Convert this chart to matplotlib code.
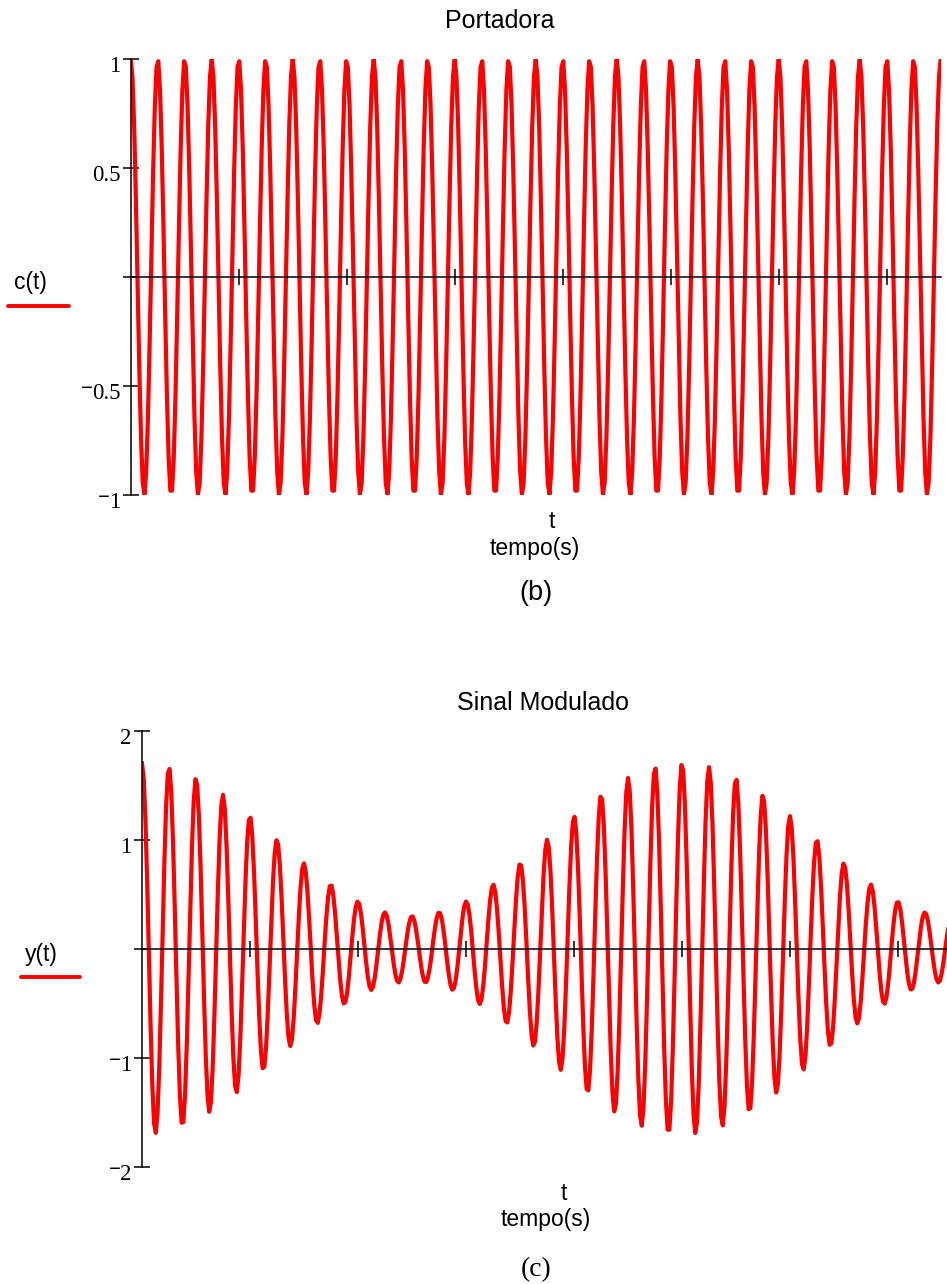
import numpy as np
import matplotlib
matplotlib.use("Agg")
import matplotlib.pyplot as plt
from matplotlib.transforms import ScaledTranslation

W, H = 947, 1284

# signal parameters (time in tick units)
t_end = 7.5            # x range: 7.5 tick intervals
carrier_freq = 4.0     # 4 carrier cycles per tick interval
mod_freq = 0.2         # envelope period = 5 tick intervals
mod_index = 0.7        # envelope goes 1.7 -> 0.3
n_samples = 471        # coarse sampling, gives the jagged look

c_yticks = [-1, -0.5, 0, 0.5, 1]
c_ylabels = ["1", "0.5", "", "0.5", "1"]
y_yticks = [-2, -1, 0, 1, 2]
y_ylabels = ["2", "1", "", "1", "2"]
x_ticks = [1, 2, 3, 4, 5, 6, 7]

t = np.linspace(0, t_end, n_samples)
c = np.cos(2 * np.pi * carrier_freq * t)
y = (1 + mod_index * np.cos(2 * np.pi * mod_freq * t)) * c

red = "#ff0000"
sans = ["Liberation Sans", "DejaVu Sans"]
serif = ["Liberation Serif", "DejaVu Serif"]


def px(x, yy):
    return x / W, 1 - yy / H


fig = plt.figure(figsize=(W / 100, H / 100), dpi=100)

# axes boxes in pixels: (left, top, right, bottom)
boxes = [(130.7, 59.3, 940.7, 495.0), (142.0, 730.7, 952.0, 1167.0)]
series = [(c, (-1, 1), c_yticks, c_ylabels), (y, (-2, 2), y_yticks, y_ylabels)]

for (l, tp, r, b), (vals, ylim, yt, yl) in zip(boxes, series):
    ax = fig.add_axes([l / W, 1 - b / H, (r - l) / W, (b - tp) / H])
    ax.plot(t, vals, color=red, lw=3.0, solid_joinstyle="round")
    ax.set_xlim(0, t_end)
    ax.set_ylim(*ylim)
    ax.spines["top"].set_visible(False)
    ax.spines["right"].set_visible(False)
    ax.spines["bottom"].set_position(("data", 0))
    ax.spines["left"].set_linewidth(1.1)
    ax.spines["bottom"].set_linewidth(1.1)
    ax.set_xticks(x_ticks)
    ax.set_xticklabels([])
    ax.tick_params(axis="x", direction="inout", length=12, width=1.1)
    ax.set_yticks(yt)
    ax.set_yticklabels(yl, fontfamily=serif, fontsize=16.5)
    ax.tick_params(axis="y", direction="inout", length=11, width=1.1, pad=2)
    off = ScaledTranslation(0, -0.05, fig.dpi_scale_trans)
    for v, lab in zip(yt, ax.get_yticklabels()):
        lab.set_transform(lab.get_transform() + off)
        if v < 0:
            # raised minus sign, Mathcad style
            ax.annotate("\u2212", xy=(0, 0.7), xycoords=lab, xytext=(0.5, 0),
                        textcoords="offset points", ha="right", va="center",
                        fontsize=15, fontweight="bold", family=serif)

# titles
fig.text(*px(500, 21.5), "Portadora", family=sans, fontsize=18, ha="center", va="center")
fig.text(*px(542.7, 703.5), "Sinal Modulado", family=sans, fontsize=18, ha="center", va="center")

# x labels
fig.text(*px(551.5, 522), "t", family=sans, fontsize=16.5, ha="center", va="center")
fig.text(*px(534.3, 548.5), "tempo(s)", family=sans, fontsize=16.5, ha="center", va="center")
fig.text(*px(563.5, 1194), "t", family=sans, fontsize=16.5, ha="center", va="center")
fig.text(*px(546, 1219.5), "tempo(s)", family=sans, fontsize=16.5, ha="center", va="center")

# panel letters
fig.text(*px(535.5, 593.5), "(b)", family=sans, fontsize=19.5, ha="center", va="center")
fig.text(*px(536, 1270), "(c)", family=serif, fontsize=20, ha="center", va="center")

# legend entries on the left
fig.text(*px(30.5, 282), "c(t)", family=sans, fontsize=16.5, ha="center", va="center")
fig.add_artist(plt.Line2D([8.3 / W, 69.3 / W], [1 - 306 / H] * 2, color=red, lw=2.8,
                          solid_capstyle="round"))
fig.text(*px(41.5, 954), "y(t)", family=sans, fontsize=16.5, ha="center", va="center")
fig.add_artist(plt.Line2D([20.7 / W, 80 / W], [1 - 977.3 / H] * 2, color=red, lw=2.8,
                          solid_capstyle="round"))

fig.savefig("out.png", dpi=100)
